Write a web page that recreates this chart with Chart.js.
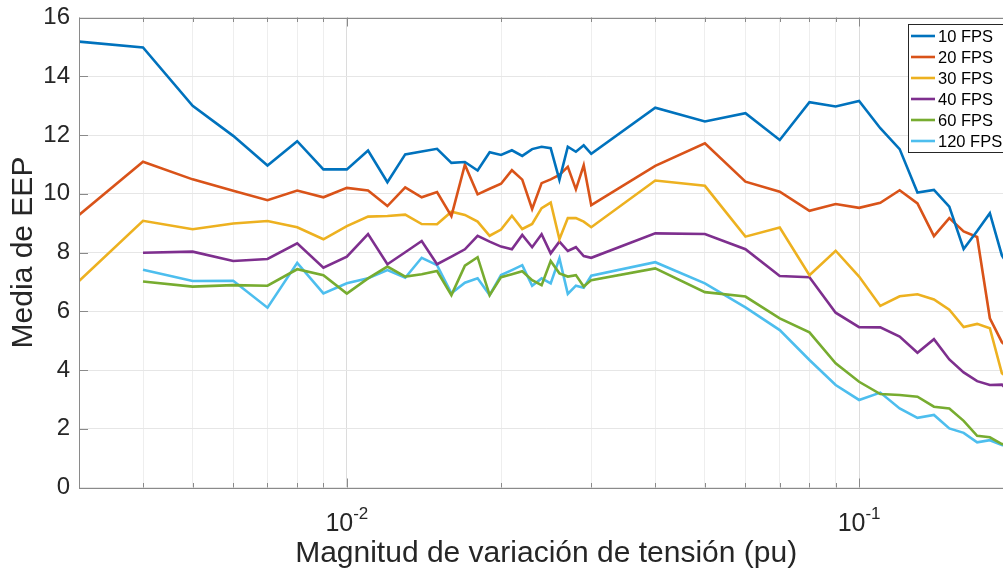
<!DOCTYPE html>
<html><head><meta charset="utf-8">
<script src="https://cdn.jsdelivr.net/npm/chart.js@4.4.1/dist/chart.umd.min.js"></script>
<style>
html,body{margin:0;padding:0;overflow:hidden;background:#fff;width:1003px;height:573px}
#wrap{position:absolute;left:0;top:0;width:1016px;height:573px}
</style>
</head><body><div id="wrap"><canvas id="c" width="1016" height="573"></canvas></div>
<script>
// ---- data ----
const magnitudes = [0.003,0.004,0.005,0.006,0.007,0.008,0.009,
  0.010,0.011,0.012,0.013,0.014,0.015,0.016,0.017,0.018,0.019,0.020,
  0.021,0.022,0.023,0.024,0.025,0.026,0.027,0.028,0.029,0.030,
  0.04,0.05,0.06,0.07,0.08,0.09,0.10,
  0.11,0.12,0.13,0.14,0.15,0.16,0.17,0.18,0.19,0.20];
const fps10 = [15.18,14.98,12.99,11.97,10.96,11.79,10.83,
  10.83,11.47,10.39,11.34,11.44,11.53,11.05,11.08,10.79,11.41,11.32,
  11.48,11.29,11.52,11.60,11.55,10.47,11.60,11.43,11.65,11.36,
  12.93,12.46,12.74,11.83,13.12,12.97,13.16,
  12.23,11.52,10.04,10.13,9.56,8.12,8.73,9.34,7.90,7.30];
const fps20 = [9.28,11.09,10.49,10.10,9.78,10.11,9.88,
  10.20,10.11,9.58,10.22,9.88,10.06,9.24,10.99,9.98,10.17,10.34,
  10.80,10.48,9.48,10.36,10.49,10.64,10.92,10.15,10.97,9.61,
  10.95,11.72,10.41,10.07,9.42,9.65,9.52,
  9.69,10.12,9.67,8.56,9.17,8.72,8.53,5.76,4.95,4.60];
const fps30 = [7.03,9.08,8.79,8.99,9.07,8.86,8.45,
  8.90,9.22,9.24,9.29,8.97,8.96,9.39,9.28,9.05,8.57,8.78,
  9.25,8.80,8.97,9.51,9.70,8.45,9.17,9.17,9.05,8.86,
  10.45,10.27,8.54,8.85,7.23,8.06,7.18,
  6.18,6.51,6.58,6.40,6.05,5.46,5.57,5.42,3.89,3.60];
const fps40 = [null,7.99,8.03,7.71,7.78,8.31,7.48,
  7.86,8.63,7.60,8.01,8.39,7.60,7.86,8.11,8.57,8.37,8.20,
  8.11,8.60,8.18,8.62,7.97,8.37,8.05,8.18,7.88,7.82,
  8.65,8.63,8.11,7.20,7.16,5.95,5.46,
  5.45,5.14,4.59,5.05,4.36,3.92,3.62,3.49,3.50,3.10];
const fps60 = [null,7.01,6.84,6.89,6.87,7.43,7.23,
  6.60,7.12,7.52,7.18,7.26,7.37,6.55,7.55,7.84,6.55,7.16,
  7.26,7.36,7.06,6.89,7.71,7.29,7.18,7.23,6.84,7.06,
  7.46,6.65,6.50,5.76,5.28,4.23,3.60,
  3.18,3.15,3.09,2.75,2.69,2.27,1.76,1.71,1.48,1.40];
const fps120 = [null,7.41,7.03,7.04,6.12,7.65,6.61,
  6.95,7.12,7.40,7.14,7.82,7.57,6.61,6.97,7.12,6.55,7.23,
  7.40,7.57,6.87,7.12,6.95,7.80,6.59,6.87,6.80,7.21,
  7.67,6.95,6.13,5.36,4.34,3.49,2.98,
  3.23,2.69,2.37,2.47,2.01,1.86,1.54,1.61,1.45,1.35];
const seriesLabels = ['10 FPS','20 FPS','30 FPS','40 FPS','60 FPS','120 FPS'];
const seriesValues = [fps10, fps20, fps30, fps40, fps60, fps120];
const seriesColors = ['#0072BD','#D95319','#EDB120','#7E2F8E','#77AC30','#4DBEEE'];
const xTickValues = [0.003,0.004,0.005,0.006,0.007,0.008,0.009,0.01,
  0.02,0.03,0.04,0.05,0.06,0.07,0.08,0.09,0.1,0.2];
const xMajorTicks = [0.01, 0.1];
const xMajorLabels = [['10','-2'],['10','-1']];
const yTickStep = 2;
const yMin = 0, yMax = 16;
const xMin = 0.003, xMax = 0.2;
const xTitle = 'Magnitud de variación de tensión (pu)';
const yTitle = 'Media de EEP';

// ---- chart ----
const FONT = "'Liberation Sans', Arial, Helvetica, sans-serif";
const isMajor = v => xMajorTicks.some(m => Math.abs(m - v) < 1e-9);

const datasets = seriesValues.map((arr, i) => ({
  label: seriesLabels[i],
  data: magnitudes.map((x, k) => ({x: x, y: arr[k]})),
  borderColor: seriesColors[i],
  backgroundColor: seriesColors[i],
  borderWidth: 2.6,
  pointRadius: 0,
  tension: 0,
  spanGaps: false
}));

const decor = {
  id: 'decor',
  afterDraw(chart) {
    const {ctx, chartArea: a, scales: {x, y}} = chart;
    ctx.save();
    // frame
    ctx.strokeStyle = '#8a8a8a';
    ctx.lineWidth = 1;
    ctx.strokeRect(Math.round(a.left) + 0.5, Math.round(a.top) + 0.5,
      Math.round(a.right - a.left), Math.round(a.bottom - a.top));
    // inward ticks
    ctx.beginPath();
    xTickValues.forEach(v => {
      const px = Math.round(x.getPixelForValue(v)) + 0.5;
      const len = isMajor(v) ? 9 : 4.5;
      ctx.moveTo(px, a.bottom); ctx.lineTo(px, a.bottom - len);
      ctx.moveTo(px, a.top); ctx.lineTo(px, a.top + len);
    });
    for (let v = yMin; v <= yMax; v += yTickStep) {
      const py = Math.round(y.getPixelForValue(v)) + 0.5;
      ctx.moveTo(a.left, py); ctx.lineTo(a.left + 9, py);
      ctx.moveTo(a.right, py); ctx.lineTo(a.right - 9, py);
    }
    ctx.stroke();
    // x tick labels with exponents
    ctx.fillStyle = '#262626';
    ctx.textBaseline = 'alphabetic';
    xMajorTicks.forEach((v, i) => {
      const [base, exp] = xMajorLabels[i];
      const px = x.getPixelForValue(v);
      ctx.font = '25px ' + FONT;
      const wb = ctx.measureText(base).width;
      ctx.font = '17px ' + FONT;
      const we = ctx.measureText(exp).width;
      const start = px - (wb + we) / 2;
      ctx.font = '25px ' + FONT;
      ctx.textAlign = 'left';
      ctx.fillText(base, start, 531);
      ctx.font = '17px ' + FONT;
      ctx.fillText(exp, start + wb, 519);
    });
    // legend
    const lx = 908, ly = 24, lw = 104, lh = 128;
    ctx.fillStyle = '#ffffff';
    ctx.fillRect(lx, ly, lw, lh);
    ctx.strokeStyle = '#262626';
    ctx.lineWidth = 1;
    ctx.strokeRect(lx + 0.5, ly + 0.5, lw, lh);
    ctx.font = '16.5px ' + FONT;
    ctx.textBaseline = 'middle';
    ctx.textAlign = 'left';
    chart.data.datasets.forEach((ds, i) => {
      const cy = 36 + 21 * i;
      ctx.strokeStyle = ds.borderColor;
      ctx.lineWidth = 2.6;
      ctx.beginPath();
      ctx.moveTo(911, cy); ctx.lineTo(935, cy);
      ctx.stroke();
      ctx.fillStyle = '#000000';
      ctx.fillText(ds.label, 938, cy + 1);
    });
    ctx.restore();
  }
};

new Chart(document.getElementById('c'), {
  type: 'line',
  data: {datasets},
  options: {
    responsive: false,
    animation: false,
    layout: {padding: {top: 17.5, right: 2.7, left: 0, bottom: 0}},
    plugins: {legend: {display: false}, tooltip: {enabled: false}},
    scales: {
      x: {
        type: 'logarithmic',
        min: xMin, max: xMax,
        afterBuildTicks(scale) { scale.ticks = xTickValues.map(v => ({value: v})); },
        afterFit(scale) {
          scale.height = 85.5;
          scale.paddingLeft = 0; scale.paddingRight = 0;
        },
        ticks: {autoSkip: false, callback: () => '', font: {size: 1}},
        grid: {
          drawTicks: false,
          color: ctx => (ctx.tick && isMajor(ctx.tick.value)) ? '#dcdcdc' : '#eeeeee',
          lineWidth: 1
        },
        border: {display: false},
        title: {display: true, text: xTitle, color: '#262626',
          font: {family: FONT, size: 30}, padding: {top: 0, bottom: 1}}
      },
      y: {
        min: yMin, max: yMax,
        afterFit(scale) {
          scale.width = 79;
          scale.paddingTop = 0; scale.paddingBottom = 0;
        },
        ticks: {stepSize: yTickStep, color: '#262626', padding: 9,
          font: {family: FONT, size: 24}},
        grid: {drawTicks: false, color: '#e6e6e6', lineWidth: 1},
        border: {display: false},
        title: {display: true, text: yTitle, color: '#262626',
          font: {family: FONT, size: 30}, padding: {top: 6, bottom: 0}}
      }
    }
  },
  plugins: [decor]
});
</script>
</body></html>
